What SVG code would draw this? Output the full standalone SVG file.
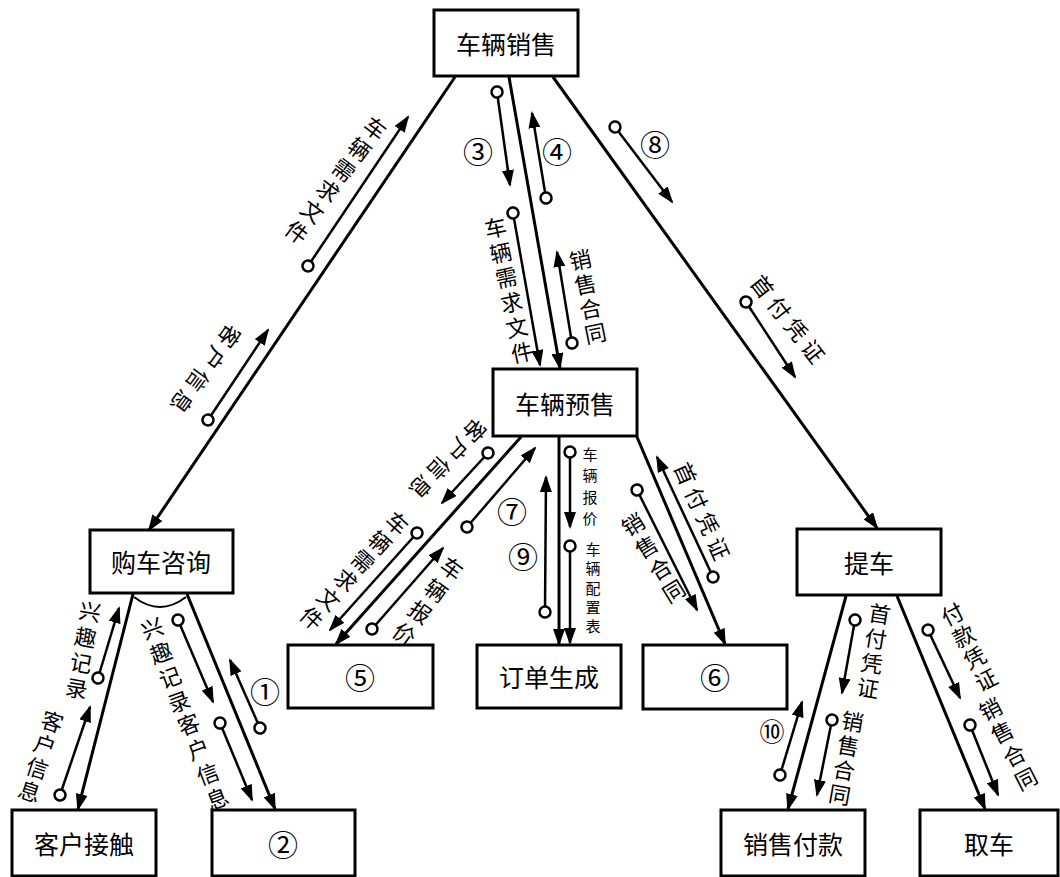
<svg xmlns="http://www.w3.org/2000/svg" width="1060" height="877" viewBox="0 0 1060 877">
<style>
text{font-family:"Noto Sans CJK SC","Noto Sans",sans-serif;fill:#000;text-anchor:middle;dominant-baseline:central}
.box{fill:#fff;stroke:#000;stroke-width:3}
.nl{font-size:25px}
.nd{font-size:30px}
.lb{font-size:22px}
.num{font-size:30px}
.main{stroke:#000;stroke-width:3;fill:none;marker-end:url(#arr)}
.sm{stroke:#000;stroke-width:2.5;fill:none;marker-start:url(#dot);marker-end:url(#arr)}
</style>
<defs>
<marker id="arr" markerUnits="userSpaceOnUse" markerWidth="17" markerHeight="12" refX="15" refY="6" orient="auto"><path d="M0,0 L17,6 L0,12 Z" fill="#000"/></marker>
<marker id="dot" markerUnits="userSpaceOnUse" markerWidth="16" markerHeight="16" refX="8" refY="8" orient="auto"><circle cx="8" cy="8" r="5.5" fill="#fff" stroke="#000" stroke-width="2.5"/></marker>
</defs>
<rect width="1060" height="877" fill="#fff"/>

<g id="connectors">
<line class="main" x1="455" y1="77" x2="149" y2="530"/>
<line class="main" x1="509" y1="77" x2="560" y2="368"/>
<line class="main" x1="553" y1="77" x2="877" y2="528"/>
<line class="main" x1="133" y1="594" x2="78" y2="809"/>
<line class="main" x1="187" y1="594" x2="275" y2="809"/>
<line class="main" x1="521" y1="437" x2="336" y2="644"/>
<line class="main" x1="559" y1="437" x2="559" y2="644"/>
<line class="main" x1="637" y1="437" x2="725" y2="644"/>
<line class="main" x1="846" y1="596" x2="788" y2="809"/>
<line class="main" x1="897" y1="596" x2="985" y2="809"/>
<path d="M134,597 Q160,617 186,597" fill="none" stroke="#000" stroke-width="2"/>

<line class="sm" x1="308" y1="266" x2="408" y2="117"/>
<line class="sm" x1="208" y1="420" x2="268" y2="330"/>
<line class="sm" x1="497" y1="92" x2="510" y2="185"/>
<line class="sm" x1="546" y1="198" x2="532" y2="113"/>
<line class="sm" x1="615" y1="127" x2="672" y2="202"/>
<line class="sm" x1="513" y1="213" x2="540" y2="365"/>
<line class="sm" x1="572" y1="343" x2="557" y2="252"/>
<line class="sm" x1="746" y1="302" x2="795" y2="377"/>
<line class="sm" x1="98" y1="678" x2="119" y2="608"/>
<line class="sm" x1="60" y1="795" x2="90" y2="707"/>
<line class="sm" x1="178" y1="620" x2="213" y2="702"/>
<line class="sm" x1="220" y1="723" x2="252" y2="800"/>
<line class="sm" x1="260" y1="728" x2="230" y2="660"/>
<line class="sm" x1="488" y1="453" x2="442" y2="503"/>
<line class="sm" x1="417" y1="533" x2="330" y2="630"/>
<line class="sm" x1="372" y1="629" x2="443" y2="548"/>
<line class="sm" x1="467" y1="527" x2="535" y2="448"/>
<line class="sm" x1="545" y1="612" x2="546" y2="477"/>
<line class="sm" x1="570" y1="452" x2="570" y2="527"/>
<line class="sm" x1="570" y1="546" x2="570" y2="643"/>
<line class="sm" x1="637" y1="490" x2="697" y2="610"/>
<line class="sm" x1="713" y1="577" x2="657" y2="457"/>
<line class="sm" x1="855" y1="620" x2="842" y2="693"/>
<line class="sm" x1="832" y1="720" x2="817" y2="795"/>
<line class="sm" x1="780" y1="775" x2="802" y2="702"/>
<line class="sm" x1="928" y1="630" x2="960" y2="698"/>
<line class="sm" x1="970" y1="725" x2="998" y2="795"/>
</g>

<g id="labels">
<g transform="rotate(37 337 179)"><text class="lb"><tspan x="337" y="114">车</tspan><tspan x="337" y="140">辆</tspan><tspan x="337" y="166">需</tspan><tspan x="337" y="192">求</tspan><tspan x="337" y="218">文</tspan><tspan x="337" y="244">件</tspan></text></g>
<g transform="rotate(126 207 370)"><text class="lb"><tspan x="166.5" y="370">客</tspan><tspan x="193.5" y="370">户</tspan><tspan x="220.5" y="370">信</tspan><tspan x="247.5" y="370">息</tspan></text></g>
<text class="num" x="478" y="150">③</text>
<text class="num" x="557" y="150">④</text>
<text class="num" x="655" y="143">⑧</text>
<g transform="rotate(-12 508.5 288.5)"><text class="lb"><tspan x="508.5" y="224.75">车</tspan><tspan x="508.5" y="250.25">辆</tspan><tspan x="508.5" y="275.75">需</tspan><tspan x="508.5" y="301.25">求</tspan><tspan x="508.5" y="326.75">文</tspan><tspan x="508.5" y="352.25">件</tspan></text></g>
<g transform="rotate(-11.5 587.5 295)"><text class="lb"><tspan x="587.5" y="257.5">销</tspan><tspan x="587.5" y="282.5">售</tspan><tspan x="587.5" y="307.5">合</tspan><tspan x="587.5" y="332.5">同</tspan></text></g>
<g transform="rotate(52 789 318)"><text class="lb"><tspan x="747.75" y="318">首</tspan><tspan x="775.25" y="318">付</tspan><tspan x="802.75" y="318">凭</tspan><tspan x="830.25" y="318">证</tspan></text></g>
<g transform="rotate(10 83.5 648.5)"><text class="lb"><tspan x="83.5" y="609.5">兴</tspan><tspan x="83.5" y="635.5">趣</tspan><tspan x="83.5" y="661.5">记</tspan><tspan x="83.5" y="687.5">录</tspan></text></g>
<g transform="rotate(18 41.5 755)"><text class="lb"><tspan x="41.5" y="718.25">客</tspan><tspan x="41.5" y="742.75">户</tspan><tspan x="41.5" y="767.25">信</tspan><tspan x="41.5" y="791.75">息</tspan></text></g>
<g transform="rotate(-20 165 663.5)"><text class="lb"><tspan x="165" y="624.5">兴</tspan><tspan x="165" y="650.5">趣</tspan><tspan x="165" y="676.5">记</tspan><tspan x="165" y="702.5">录</tspan></text></g>
<g transform="rotate(-21 202.5 760)"><text class="lb"><tspan x="202.5" y="720.25">客</tspan><tspan x="202.5" y="746.75">户</tspan><tspan x="202.5" y="773.25">信</tspan><tspan x="202.5" y="799.75">息</tspan></text></g>
<text class="num" x="265" y="690">①</text>
<g transform="rotate(134 449 460)"><text class="lb"><tspan x="410" y="460">客</tspan><tspan x="436" y="460">户</tspan><tspan x="462" y="460">信</tspan><tspan x="488" y="460">息</tspan></text></g>
<g transform="rotate(42 355.5 569.5)"><text class="lb"><tspan x="355.5" y="505.75">车</tspan><tspan x="355.5" y="531.25">辆</tspan><tspan x="355.5" y="556.75">需</tspan><tspan x="355.5" y="582.25">求</tspan><tspan x="355.5" y="607.75">文</tspan><tspan x="355.5" y="633.25">件</tspan></text></g>
<g transform="rotate(36 429 600)"><text class="lb"><tspan x="429" y="559.5">车</tspan><tspan x="429" y="586.5">辆</tspan><tspan x="429" y="613.5">报</tspan><tspan x="429" y="640.5">价</tspan></text></g>
<text class="num" x="512" y="510">⑦</text>
<text class="num" x="523" y="555">⑨</text>
<text style="font-size:15px"><tspan x="590" y="453">车</tspan><tspan x="590" y="474.3">辆</tspan><tspan x="590" y="495.7">报</tspan><tspan x="590" y="517">价</tspan></text>
<text style="font-size:15px"><tspan x="593" y="547.9">车</tspan><tspan x="593" y="567.2">辆</tspan><tspan x="593" y="586.5">配</tspan><tspan x="593" y="605.8">置</tspan><tspan x="593" y="625.1">表</tspan></text>
<g transform="rotate(-31.5 652.5 556.5)"><text class="lb"><tspan x="652.5" y="517.5">销</tspan><tspan x="652.5" y="543.5">售</tspan><tspan x="652.5" y="569.5">合</tspan><tspan x="652.5" y="595.5">同</tspan></text></g>
<g transform="rotate(66 703.5 510.5)"><text class="lb"><tspan x="662.55" y="510.5">首</tspan><tspan x="689.85" y="510.5">付</tspan><tspan x="717.15" y="510.5">凭</tspan><tspan x="744.45" y="510.5">证</tspan></text></g>
<g transform="rotate(9 874 649.5)"><text class="lb"><tspan x="874" y="612">首</tspan><tspan x="874" y="637">付</tspan><tspan x="874" y="662">凭</tspan><tspan x="874" y="687">证</tspan></text></g>
<g transform="rotate(10 846.5 756.5)"><text class="lb"><tspan x="846.5" y="719.45">销</tspan><tspan x="846.5" y="744.15">售</tspan><tspan x="846.5" y="768.85">合</tspan><tspan x="846.5" y="793.55">同</tspan></text></g>
<text class="num" x="772" y="730" style="font-size:25px">⑩</text>
<g transform="rotate(-27 968.5 645.5)"><text class="lb"><tspan x="968.5" y="608.75">付</tspan><tspan x="968.5" y="633.25">款</tspan><tspan x="968.5" y="657.75">凭</tspan><tspan x="968.5" y="682.25">证</tspan></text></g>
<g transform="rotate(-27 1007.5 742.5)"><text class="lb"><tspan x="1007.5" y="703.5">销</tspan><tspan x="1007.5" y="729.5">售</tspan><tspan x="1007.5" y="755.5">合</tspan><tspan x="1007.5" y="781.5">同</tspan></text></g>
</g>

<g id="n-sale"><rect class="box" x="434" y="10" width="144" height="66"/><text class="nl" x="506" y="43">车辆销售</text></g>
<g id="n-presale"><rect class="box" x="493" y="369" width="144" height="67"/><text class="nl" x="565" y="403">车辆预售</text></g>
<g id="n-consult"><rect class="box" x="90" y="530" width="143" height="63"/><text class="nl" x="161" y="561">购车咨询</text></g>
<g id="n-contact"><rect class="box" x="12" y="810" width="144" height="66"/><text class="nl" x="84" y="843">客户接触</text></g>
<g id="n-2"><rect class="box" x="212" y="810" width="143" height="66"/><text class="nd" x="283" y="843">②</text></g>
<g id="n-5"><rect class="box" x="288" y="645" width="145" height="63"/><text class="nd" x="360" y="676">⑤</text></g>
<g id="n-order"><rect class="box" x="477" y="645" width="144" height="63"/><text class="nl" x="549" y="676">订单生成</text></g>
<g id="n-6"><rect class="box" x="643" y="645" width="144" height="64"/><text class="nd" x="715" y="676">⑥</text></g>
<g id="n-pickup"><rect class="box" x="797" y="529" width="144" height="66"/><text class="nl" x="869" y="562">提车</text></g>
<g id="n-pay"><rect class="box" x="721" y="810" width="144" height="66"/><text class="nl" x="793" y="843">销售付款</text></g>
<g id="n-take"><rect class="box" x="920" y="810" width="138" height="66"/><text class="nl" x="989" y="843">取车</text></g>
</svg>
